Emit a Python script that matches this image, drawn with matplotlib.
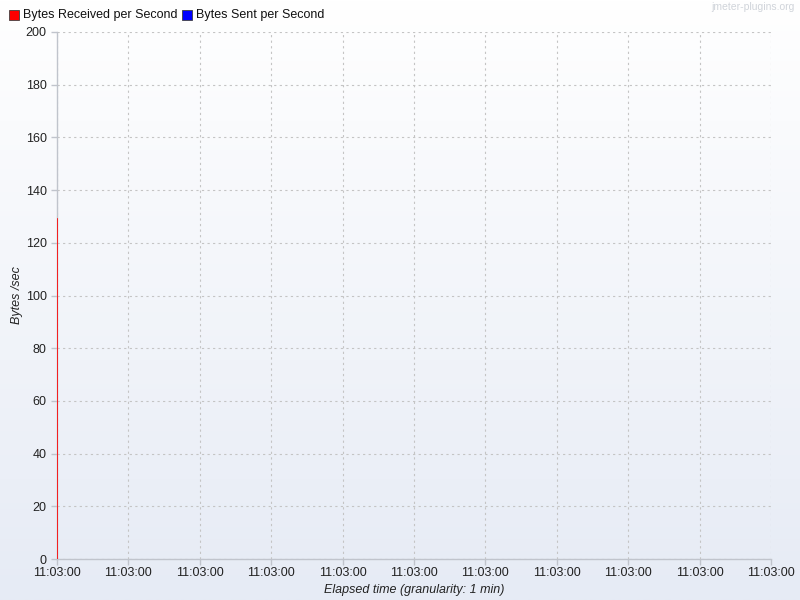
import matplotlib
matplotlib.use("Agg")
import matplotlib.pyplot as plt
import numpy as np
from matplotlib.patches import Rectangle

# data: elapsed minutes since 11:03:00 (all samples land in the same instant)
elapsed_min = [0, 0]
bytes_received = [0, 129]
bytes_sent = [0, 0]

series_names = ["Bytes Received per Second", "Bytes Sent per Second"]
series_colors = ["#ff0000", "#0000ff"]

x_ticks = list(range(11))
x_tick_labels = ["11:03:00"] * 11
y_ticks = list(range(0, 201, 20))

plt.rcParams["font.family"] = ["Liberation Sans", "DejaVu Sans"]

fig = plt.figure(figsize=(8, 6), dpi=100)

# background gradient over the whole figure
bg = fig.add_axes([0, 0, 1, 1], zorder=-10)
grad = np.linspace(0, 1, 256).reshape(-1, 1)
top = np.array([1.0, 1.0, 1.0])
bottom = np.array([230, 235, 245]) / 255
img = top + (bottom - top) * grad[:, :, None]
bg.imshow(img, aspect="auto", extent=[0, 1, 0, 1])
bg.set_axis_off()

ax = fig.add_axes([57 / 800, 41 / 600, 714 / 800, 527 / 600])
ax.patch.set_alpha(0)

ax.plot(elapsed_min, bytes_received, color=series_colors[0], lw=1.2, zorder=3)
ax.plot(elapsed_min, bytes_sent, color=series_colors[1], lw=1.2, zorder=4)

ax.set_xlim(0, 10)
ax.set_ylim(0, 200)
ax.set_xticks(x_ticks)
ax.set_xticklabels(x_tick_labels)
ax.set_yticks(y_ticks)

for s in ["top", "right"]:
    ax.spines[s].set_visible(False)
for s in ["left", "bottom"]:
    ax.spines[s].set_color("#c0c4cc")
    ax.spines[s].set_linewidth(1)

ax.tick_params(axis="both", colors="#c0c4cc", labelcolor="#222222",
               labelsize=9, length=4, width=1)
ax.tick_params(axis="x", pad=2)
ax.grid(True, color="#c4c4c4", linestyle=(0, (2, 3)), linewidth=0.8)

ax.set_ylabel("Bytes /sec", fontsize=9, style="italic", color="#222222", labelpad=2)
ax.set_xlabel("Elapsed time (granularity: 1 min)", fontsize=9, style="italic",
              color="#222222", labelpad=3)

# legend drawn by hand in figure pixels
x = 9
for name, color in zip(series_names, series_colors):
    fig.patches.append(Rectangle((x / 800, 1 - 20 / 600), 10 / 800, 10 / 600,
                                 transform=fig.transFigure, facecolor=color,
                                 edgecolor="#404040", lw=0.6))
    fig.text((x + 14) / 800, 1 - 15 / 600, name, fontsize=9,
             va="center", ha="left", color="#111111")
    x += 173

fig.text(795 / 800, 1 - 7 / 600, "jmeter-plugins.org", fontsize=7.5,
         color="#d0d4da", ha="right", va="center")

fig.savefig("out.png", dpi=100)
